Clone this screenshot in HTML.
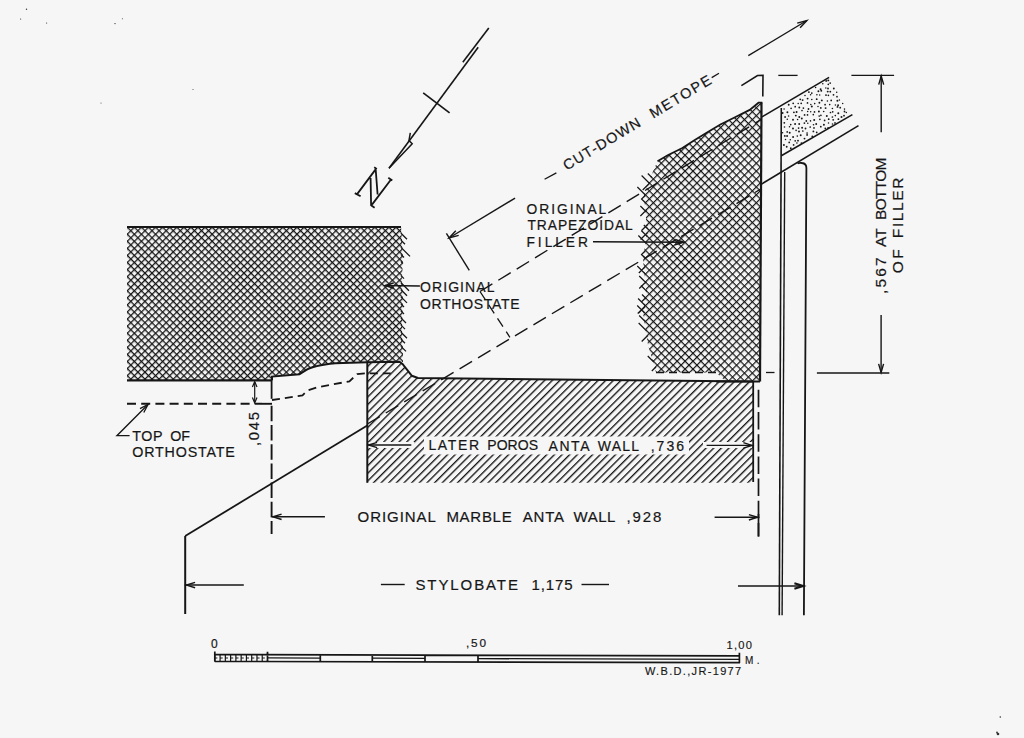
<!DOCTYPE html>
<html><head><meta charset="utf-8"><style>
html,body{margin:0;padding:0;background:#f6f6f6;width:1024px;height:738px;overflow:hidden}
svg{display:block}
text{font-family:"Liberation Sans",sans-serif;fill:#161616;stroke:#161616;stroke-width:0.2px}
</style></head><body>
<svg width="1024" height="738" viewBox="0 0 1024 738">
<defs>
<pattern id="xh" patternUnits="userSpaceOnUse" width="5.0" height="5.0" patternTransform="rotate(45)">
<rect x="0" y="0" width="1.3" height="5.0" fill="#161616"/><rect x="0" y="0" width="5.0" height="1.3" fill="#161616"/>
</pattern>
<pattern id="xh2" patternUnits="userSpaceOnUse" width="5.6" height="5.6" patternTransform="rotate(45)">
<rect x="0" y="0" width="1.2" height="5.6" fill="#161616"/><rect x="0" y="0" width="5.6" height="1.2" fill="#161616"/>
</pattern>
<pattern id="hh" patternUnits="userSpaceOnUse" width="5.4" height="5.4" patternTransform="rotate(45)">
<rect x="0" y="0" width="1.35" height="5.4" fill="#161616"/>
</pattern>
</defs>
<rect width="1024" height="738" fill="#f6f6f6"/>
<g stroke="#161616" stroke-linecap="butt" fill="none">
<path d="M127,226 L401,226 L402,240 L403,258 L402,280 L403,300 L402,330 L403,350 L403,362 L399.4,361.7 L367,362.2 L335.3,363.3 L316.6,365.6 L305.6,370.3 L299.4,374.2 L272,376.6 L272,380.4 L127,380.4 Z" fill="url(#xh)" stroke="none"/>
<line x1="127" y1="227" x2="401" y2="227" stroke-width="2.2" />
<path d="M401,233.21 L407,239.21 M401,240.28 L405,244.28 M401,247.36 L410,256.36 M401,254.43 L404,257.43 M401,261.50 L403,263.50 M401,275.64 L404,278.64 M401,282.71 L409,290.71 M401,289.78 L407,295.78 M401,296.85 L407,302.85 M401,303.92 L404,306.92 M401,311.00 L404,314.00 M401,318.07 L406,323.07 M401,325.14 L405,329.14 M401,332.21 L407,338.21 M401,339.28 L405,343.28 M401,346.35 L406,351.35" stroke-width="1.3" fill="none"/>
<line x1="127" y1="380.4" x2="272" y2="380.4" stroke-width="2.2" />
<path d="M272,380.4 L272,376.6 L299.4,374.2 L305.6,370.3 C310,367.5 318,365 335.3,363.3 L367,362.2 L399.4,361.7 L402.5,364 L411.9,375.8 L418,378 L753,381.5" stroke-width="2.0" fill="none" />
<path d="M657.5,161.2 L667.7,155.3 L682.4,148 L694,140.6 L705.8,133.3 L720.4,124.5 L735,117.2 L749.7,109.9 L761.5,102.5 L760,381.5 L726,381.5 L716,372.5 L656,372.5 L648,345 L643,313 L646,290 L643,260 L647,230 L644,195 L651,176 Z" fill="url(#xh2)" stroke="none"/>
<path d="M657.5,161.2 L667.7,155.3 L682.4,148 L694,140.6 L705.8,133.3 L720.4,124.5 L735,117.2 L749.7,109.9 L758.5,102.7 L762.3,102.7" stroke-width="1.8" fill="none" />
<line x1="761.5" y1="102.5" x2="760" y2="381.5" stroke-width="2.2" />
<path d="M651.82,177.50 L647.82,173.50 M649.61,183.50 L641.61,175.50 M648.68,184.00 L642.68,190.00 M645.37,195.00 L637.37,187.00 M645.13,195.50 L641.13,199.50 M645.60,203.00 L641.60,199.00 M646.37,212.00 L640.37,206.00 M646.37,210.00 L640.37,216.00 M647.61,224.50 L641.61,230.50 M647.83,229.00 L643.83,225.00 M647.53,232.50 L640.53,239.50 M647.27,236.50 L641.27,230.50 M646.33,243.50 L638.33,235.50 M645.07,251.00 L641.07,255.00 M644.47,257.50 L641.47,254.50 M644.80,267.00 L638.80,273.00 M645.30,274.00 L637.30,266.00 M646.20,283.00 L639.20,276.00 M646.25,281.50 L639.25,288.50 M646.93,291.50 L640.93,285.50 M646.02,298.50 L642.02,294.50 M645.89,297.50 L641.89,301.50 M645.11,305.50 L638.11,298.50 M644.72,306.50 L637.72,313.50 M644.65,307.00 L638.65,313.00 M644.20,312.50 L637.20,305.50 M645.17,321.50 L639.17,315.50 M646.66,331.00 L638.66,323.00 M647.67,335.50 L641.67,341.50 M653.74,362.00 L647.74,356.00 M655.81,367.00 L651.81,371.00" stroke-width="1.2" fill="none"/>
<path d="M716,381.5 L760,381.5" stroke-width="2.0" fill="none" />
<path d="M367.3,362.2 L399.4,361.7 L402.5,364 L411.9,375.8 L418,378 L753,381.5 L753,482.8 L367.3,482.8 Z" fill="url(#hh)" stroke="none"/>
<rect x="424" y="436.5" width="265" height="18" fill="#f6f6f6" stroke="none"/>
<rect x="368.5" y="442" width="46" height="6" fill="#f6f6f6" stroke="none"/>
<rect x="703" y="442" width="49" height="6" fill="#f6f6f6" stroke="none"/>
<line x1="367.3" y1="362.2" x2="367.3" y2="482.8" stroke-width="2.0" />
<line x1="753.2" y1="381.5" x2="753.2" y2="482" stroke-width="1.8" />
<line x1="127" y1="403.8" x2="262" y2="403.8" stroke-width="1.9" stroke-dasharray="9,5.2"/>
<line x1="262" y1="403.8" x2="272" y2="403.8" stroke-width="1.9" />
<path d="M272,400 L302.5,395.3 L307.2,390.6 L316.6,387.5 L349.4,381.3 L357.2,374.2 L365,373.4 L392,373.4" stroke-width="1.8" fill="none" stroke-dasharray="8,5"/>
<line x1="271.6" y1="380.4" x2="271.6" y2="398.8" stroke-width="1.8" />
<line x1="271.6" y1="405.8" x2="271.6" y2="534" stroke-width="1.9" stroke-dasharray="15.5,3.7"/>
<line x1="758.5" y1="389.8" x2="758.5" y2="536.5" stroke-width="1.7" stroke-dasharray="17.5,4.7"/>
<line x1="758.5" y1="514" x2="758.5" y2="536.5" stroke-width="1.7" />
<line x1="656" y1="372.5" x2="716" y2="372.5" stroke-width="1.4" stroke-dasharray="8,5"/>
<line x1="766" y1="372.5" x2="774.5" y2="372.5" stroke-width="1.3" />
<line x1="185.2" y1="536" x2="367.3" y2="425.5" stroke-width="1.8" />
<line x1="367.3" y1="424" x2="761" y2="188.9" stroke-width="1.4" stroke-dasharray="14.5,7"/>
<line x1="480" y1="291.5" x2="761" y2="119.5" stroke-width="1.4" stroke-dasharray="14.5,7"/>
<line x1="480" y1="291.5" x2="509.9" y2="337.3" stroke-width="1.3" stroke-dasharray="10,6"/>
<line x1="185.2" y1="536" x2="185.2" y2="614" stroke-width="2.0" />
<line x1="185.2" y1="585.1" x2="243.8" y2="585.1" stroke-width="1.5" />
<path d="M195.1,582.4 L186.5,585.1 L195.1,587.8" stroke-width="1.5" fill="none"/>
<line x1="271.6" y1="516.8" x2="324.9" y2="516.8" stroke-width="1.5" />
<path d="M281.6,514.1 L273,516.8 L281.6,519.5" stroke-width="1.5" fill="none"/>
<line x1="714.6" y1="517.3" x2="757.5" y2="517.3" stroke-width="1.5" />
<path d="M748.9,520.0 L757.5,517.3 L748.9,514.6" stroke-width="1.5" fill="none"/>
<line x1="738" y1="586" x2="803" y2="586" stroke-width="1.5" />
<path d="M794.4,588.7 L803,586 L794.4,583.3" stroke-width="2.2" fill="none"/>
<line x1="367.3" y1="445" x2="411.3" y2="445" stroke-width="1.4" />
<path d="M377.1,442.3 L368.5,445 L377.1,447.7" stroke-width="1.4" fill="none"/>
<line x1="706.6" y1="445.4" x2="753" y2="445.4" stroke-width="1.4" />
<path d="M743.4,448.1 L752,445.4 L743.4,442.7" stroke-width="1.4" fill="none"/>
<line x1="380.9" y1="584.5" x2="404.7" y2="584.5" stroke-width="1.4" />
<line x1="581.5" y1="584.5" x2="609" y2="584.5" stroke-width="1.4" />
<line x1="254.7" y1="382" x2="254.7" y2="402" stroke-width="1.2" />
<path d="M257.0,387.0 L254.7,381.5 L252.4,387.0" stroke-width="1.2" fill="none"/>
<path d="M252.4,397.5 L254.7,403 L257.0,397.5" stroke-width="1.2" fill="none"/>
<path d="M129.6,435.7 L116.9,435.7 L148,404.5" stroke-width="1.3" fill="none" />
<path d="M143.8,412.5 L148,404.5 L140.0,408.7" stroke-width="1.3" fill="none"/>
<line x1="385.2" y1="285.5" x2="419.9" y2="285.9" stroke-width="1.5" />
<path d="M393.8,282.9 L385.2,285.5 L393.8,288.3" stroke-width="1.5" fill="none"/>
<line x1="593" y1="241.8" x2="683.7" y2="242.2" stroke-width="1.5" />
<path d="M675.1,244.8 L683.7,242.2 L675.1,239.5" stroke-width="1.5" fill="none"/>
<line x1="446.4" y1="233.4" x2="469.3" y2="270.4" stroke-width="1.4" />
<line x1="449" y1="238" x2="515.1" y2="198.1" stroke-width="1.4" />
<path d="M455.8,230.7 L449,238 L458.7,235.4" stroke-width="1.4" fill="none"/>
<line x1="544.6" y1="179.3" x2="556.4" y2="172.9" stroke-width="1.3" />
<line x1="711.7" y1="77.6" x2="719" y2="73.3" stroke-width="1.3" />
<line x1="748.3" y1="55.7" x2="806.9" y2="20.5" stroke-width="1.4" />
<path d="M800.1,27.8 L806.9,20.5 L797.2,23.1" stroke-width="1.4" fill="none"/>
<path d="M741.4,85.6 L757.5,75.5 L763,75.3 L762.8,96.5" stroke-width="1.6" fill="none" />
<line x1="778.3" y1="75.4" x2="797.6" y2="75.4" stroke-width="1.3" />
<line x1="851.4" y1="75.4" x2="894.1" y2="75.4" stroke-width="1.4" />
<line x1="881.2" y1="76" x2="881.2" y2="132.3" stroke-width="1.4" />
<path d="M883.7,84.6 L881.2,76 L878.7,84.6" stroke-width="1.4" fill="none"/>
<line x1="881.1" y1="315" x2="881.1" y2="372.5" stroke-width="1.4" />
<path d="M878.6,363.9 L881.1,372.5 L883.6,363.9" stroke-width="1.4" fill="none"/>
<line x1="816.9" y1="373" x2="889.3" y2="373" stroke-width="1.4" />
<line x1="761.5" y1="117.1" x2="829.1" y2="77.4" stroke-width="1.6" />
<line x1="781.3" y1="155.7" x2="852.4" y2="114.6" stroke-width="1.6" />
<line x1="761.5" y1="184.1" x2="858.5" y2="125.6" stroke-width="1.6" />
<g fill="#161616" stroke="none"><circle cx="782.6" cy="113.0" r="0.94"/><circle cx="784.5" cy="127.0" r="0.80"/><circle cx="782.5" cy="132.8" r="0.82"/><circle cx="784.8" cy="135.9" r="0.92"/><circle cx="783.9" cy="145.0" r="0.97"/><circle cx="788.7" cy="104.7" r="0.96"/><circle cx="784.1" cy="109.1" r="0.77"/><circle cx="787.4" cy="112.2" r="0.98"/><circle cx="785.1" cy="117.0" r="0.89"/><circle cx="787.3" cy="119.3" r="0.79"/><circle cx="784.3" cy="122.8" r="0.92"/><circle cx="789.5" cy="126.8" r="0.76"/><circle cx="787.2" cy="131.9" r="0.85"/><circle cx="787.1" cy="136.0" r="0.96"/><circle cx="785.5" cy="139.5" r="0.76"/><circle cx="789.2" cy="142.4" r="0.87"/><circle cx="786.7" cy="146.7" r="0.93"/><circle cx="793.2" cy="103.3" r="0.87"/><circle cx="791.1" cy="108.4" r="0.82"/><circle cx="793.9" cy="112.3" r="0.90"/><circle cx="788.6" cy="116.0" r="0.81"/><circle cx="793.0" cy="119.7" r="0.95"/><circle cx="790.7" cy="124.6" r="0.84"/><circle cx="793.0" cy="128.5" r="0.96"/><circle cx="789.7" cy="132.7" r="0.97"/><circle cx="793.1" cy="137.1" r="0.99"/><circle cx="790.3" cy="139.8" r="0.79"/><circle cx="793.6" cy="144.9" r="0.87"/><circle cx="790.8" cy="148.3" r="0.93"/><circle cx="798.2" cy="103.5" r="0.76"/><circle cx="795.2" cy="106.7" r="0.89"/><circle cx="796.6" cy="112.1" r="0.99"/><circle cx="795.8" cy="115.6" r="0.95"/><circle cx="797.6" cy="119.5" r="0.79"/><circle cx="795.1" cy="124.0" r="0.99"/><circle cx="798.6" cy="128.1" r="0.84"/><circle cx="796.1" cy="130.4" r="0.78"/><circle cx="797.3" cy="136.1" r="0.79"/><circle cx="795.2" cy="140.8" r="0.84"/><circle cx="796.9" cy="143.0" r="0.82"/><circle cx="800.2" cy="99.3" r="0.88"/><circle cx="801.2" cy="103.3" r="0.88"/><circle cx="799.3" cy="107.5" r="0.94"/><circle cx="802.0" cy="110.6" r="0.81"/><circle cx="799.3" cy="117.0" r="0.97"/><circle cx="801.8" cy="118.5" r="0.94"/><circle cx="799.2" cy="124.0" r="0.93"/><circle cx="802.1" cy="127.7" r="0.98"/><circle cx="799.0" cy="131.5" r="0.96"/><circle cx="800.7" cy="135.2" r="0.96"/><circle cx="798.0" cy="140.7" r="0.92"/><circle cx="801.5" cy="143.1" r="0.95"/><circle cx="805.0" cy="95.6" r="0.77"/><circle cx="802.6" cy="100.1" r="0.94"/><circle cx="807.5" cy="102.9" r="0.86"/><circle cx="803.4" cy="108.1" r="0.87"/><circle cx="807.7" cy="111.5" r="0.76"/><circle cx="804.6" cy="114.9" r="0.91"/><circle cx="806.3" cy="121.0" r="0.89"/><circle cx="804.4" cy="123.1" r="0.89"/><circle cx="805.5" cy="128.5" r="0.88"/><circle cx="802.8" cy="131.0" r="0.84"/><circle cx="807.1" cy="134.9" r="0.93"/><circle cx="804.5" cy="138.6" r="0.92"/><circle cx="808.9" cy="92.1" r="0.94"/><circle cx="810.6" cy="94.8" r="0.76"/><circle cx="807.6" cy="98.6" r="0.97"/><circle cx="810.8" cy="104.6" r="0.75"/><circle cx="808.5" cy="109.0" r="0.90"/><circle cx="810.7" cy="111.8" r="0.77"/><circle cx="807.5" cy="114.9" r="0.84"/><circle cx="810.5" cy="120.9" r="0.79"/><circle cx="807.8" cy="123.2" r="0.79"/><circle cx="810.2" cy="127.0" r="0.87"/><circle cx="807.1" cy="133.0" r="0.84"/><circle cx="812.3" cy="136.3" r="0.92"/><circle cx="815.6" cy="87.5" r="0.77"/><circle cx="811.8" cy="93.1" r="0.87"/><circle cx="816.9" cy="94.7" r="0.81"/><circle cx="811.8" cy="99.6" r="0.77"/><circle cx="814.7" cy="103.6" r="0.83"/><circle cx="811.8" cy="106.6" r="0.99"/><circle cx="814.5" cy="111.9" r="0.85"/><circle cx="813.3" cy="114.7" r="0.83"/><circle cx="814.2" cy="119.9" r="0.98"/><circle cx="813.5" cy="124.8" r="0.80"/><circle cx="814.0" cy="127.9" r="0.87"/><circle cx="813.4" cy="131.4" r="0.91"/><circle cx="820.6" cy="89.2" r="0.93"/><circle cx="818.4" cy="91.3" r="0.95"/><circle cx="819.7" cy="94.9" r="0.77"/><circle cx="816.7" cy="99.2" r="0.92"/><circle cx="819.4" cy="102.7" r="0.94"/><circle cx="818.0" cy="106.5" r="0.76"/><circle cx="818.9" cy="111.5" r="0.96"/><circle cx="819.2" cy="116.1" r="0.81"/><circle cx="819.9" cy="119.4" r="0.83"/><circle cx="816.2" cy="124.0" r="0.96"/><circle cx="820.8" cy="126.7" r="0.88"/><circle cx="816.7" cy="132.4" r="0.86"/><circle cx="826.2" cy="80.9" r="0.96"/><circle cx="822.8" cy="83.7" r="0.79"/><circle cx="825.8" cy="87.9" r="0.76"/><circle cx="821.3" cy="90.8" r="0.93"/><circle cx="826.0" cy="95.1" r="0.95"/><circle cx="821.8" cy="100.4" r="0.97"/><circle cx="825.1" cy="104.7" r="0.84"/><circle cx="820.8" cy="107.9" r="0.90"/><circle cx="823.7" cy="111.5" r="0.83"/><circle cx="820.9" cy="115.3" r="0.85"/><circle cx="824.6" cy="120.4" r="0.85"/><circle cx="823.9" cy="124.7" r="0.98"/><circle cx="825.3" cy="128.3" r="0.88"/><circle cx="828.3" cy="80.4" r="0.97"/><circle cx="828.3" cy="84.3" r="0.85"/><circle cx="828.0" cy="88.5" r="0.89"/><circle cx="827.7" cy="91.6" r="0.97"/><circle cx="828.4" cy="95.4" r="0.82"/><circle cx="827.4" cy="101.0" r="0.79"/><circle cx="829.7" cy="104.6" r="0.81"/><circle cx="825.6" cy="108.1" r="0.96"/><circle cx="830.5" cy="112.5" r="0.85"/><circle cx="826.8" cy="115.9" r="0.98"/><circle cx="828.7" cy="119.2" r="0.90"/><circle cx="828.5" cy="122.9" r="0.76"/><circle cx="828.1" cy="128.0" r="0.90"/><circle cx="830.2" cy="83.1" r="0.84"/><circle cx="833.8" cy="88.5" r="0.94"/><circle cx="830.3" cy="91.7" r="0.89"/><circle cx="833.5" cy="94.8" r="0.90"/><circle cx="831.2" cy="100.4" r="0.87"/><circle cx="835.4" cy="105.1" r="0.77"/><circle cx="832.4" cy="108.5" r="0.82"/><circle cx="832.7" cy="111.8" r="0.84"/><circle cx="832.4" cy="117.0" r="0.85"/><circle cx="833.2" cy="119.8" r="0.92"/><circle cx="832.5" cy="124.0" r="0.82"/><circle cx="836.7" cy="92.3" r="0.76"/><circle cx="837.0" cy="96.7" r="0.85"/><circle cx="837.4" cy="100.8" r="0.98"/><circle cx="838.1" cy="105.3" r="0.94"/><circle cx="837.5" cy="106.9" r="0.95"/><circle cx="838.3" cy="113.2" r="1.00"/><circle cx="835.3" cy="115.6" r="0.82"/><circle cx="838.4" cy="119.2" r="0.92"/><circle cx="835.0" cy="122.9" r="0.86"/><circle cx="839.4" cy="99.9" r="0.76"/><circle cx="842.7" cy="103.5" r="0.76"/><circle cx="840.2" cy="107.7" r="0.91"/><circle cx="844.5" cy="111.5" r="0.88"/><circle cx="841.5" cy="117.1" r="0.99"/><circle cx="844.5" cy="109.1" r="0.78"/><circle cx="846.3" cy="112.4" r="0.77"/><circle cx="844.0" cy="115.7" r="0.91"/></g>
<line x1="781.3" y1="108" x2="779.3" y2="615.3" stroke-width="1.6" />
<line x1="784.7" y1="172" x2="782.1" y2="615.3" stroke-width="1.4" />
<path d="M797.5,163.5 Q799,162.5 802,163 Q806.4,163.5 806.4,168 L803.9,615.3" stroke-width="1.8" fill="none" />
<line x1="478.2" y1="47.2" x2="389" y2="168.2" stroke-width="1.6" />
<line x1="423.2" y1="92.9" x2="449.6" y2="112.9" stroke-width="1.7" />
<line x1="488.8" y1="28.1" x2="462.8" y2="62.3" stroke-width="1.6" />
<path d="M389,168.2 L412.2,143.8 L409,140.5 L410.3,132.8" stroke-width="1.5" fill="none" />
<path d="M357.5,193.6 L376,168.9 M354.8,193.1 L360.6,196.2 M374.2,167.2 L376.8,168.9 M370.6,178 L371.1,205.5 M375.7,169.5 L377.6,194.5 M372,204.6 L391,179.5 M388.3,177.7 L392.3,180.4 M370.7,205 L374.6,207.7" stroke-width="1.8" fill="none" />
<path d="M214.8,654.60 L740,655.90 M214.8,661.40 L740,662.70 M214.8,651.5 L214.8,661.40 M267.5,651.7 L267.5,661.53 M320.3,654.86 L320.3,661.66 M372.3,654.99 L372.3,661.79 M425,655.12 L425,661.92 M478,655.25 L478,662.05 M739.4,652.8 L739.4,662.90" stroke-width="1.7" fill="none" />
<path d="M267.5,657.93 L320.3,658.06 M372.3,658.19 L425,658.32 M478,658.65 L740,659.30" stroke-width="1.3" fill="none" />
<line x1="214.8" y1="654.6" x2="214.8" y2="661.4" stroke-width="1.2" />
<line x1="220.07000000000002" y1="654.6" x2="220.07000000000002" y2="661.4" stroke-width="1.2" />
<line x1="225.34" y1="654.6" x2="225.34" y2="661.4" stroke-width="1.2" />
<line x1="230.61" y1="654.6" x2="230.61" y2="661.4" stroke-width="1.2" />
<line x1="235.88" y1="654.6" x2="235.88" y2="661.4" stroke-width="1.2" />
<line x1="241.15" y1="654.6" x2="241.15" y2="661.4" stroke-width="1.2" />
<line x1="246.42000000000002" y1="654.6" x2="246.42000000000002" y2="661.4" stroke-width="1.2" />
<line x1="251.69" y1="654.6" x2="251.69" y2="661.4" stroke-width="1.2" />
<line x1="256.96000000000004" y1="654.6" x2="256.96000000000004" y2="661.4" stroke-width="1.2" />
<line x1="262.23" y1="654.6" x2="262.23" y2="661.4" stroke-width="1.2" />
<path d="M214.8,658 L267.5,658" stroke-width="1.2" fill="none" stroke-dasharray="2.6,2.67"/>
<g fill="#333" stroke="none"><circle cx="26.5" cy="9.2" r="0.7"/><circle cx="20.6" cy="19" r="0.6"/><circle cx="46.6" cy="23" r="0.6"/><circle cx="115" cy="23.6" r="0.7"/><circle cx="122.4" cy="18.7" r="0.5"/><circle cx="101" cy="103" r="0.5"/><circle cx="193" cy="89.4" r="0.5"/><circle cx="1000.3" cy="717" r="0.8"/><circle cx="998" cy="734" r="1.3"/><circle cx="997" cy="732.5" r="0.9"/></g>
<text x="420.0" y="291.5" font-size="14" letter-spacing="1.086" >ORIGINAL</text>
<text x="420.0" y="308.5" font-size="14" letter-spacing="0.689" >ORTHOSTATE</text>
<text x="132.3" y="440.9" font-size="14.3" letter-spacing="0.5" >TOP</text>
<text x="170.3" y="440.9" font-size="14.3" letter-spacing="-0.1" >OF</text>
<text x="132.2" y="457.3" font-size="14.3" letter-spacing="0.822" >ORTHOSTATE</text>
<text x="428.4" y="450.4" font-size="14" letter-spacing="1.675" >LATER</text>
<text x="487.3" y="450.4" font-size="14" letter-spacing="0.05" >POROS</text>
<text x="548.6" y="450.6" font-size="14" letter-spacing="1.533" >ANTA</text>
<text x="597.8" y="450.6" font-size="14" letter-spacing="1.2" >WALL</text>
<text x="650.7" y="450.6" font-size="14" letter-spacing="2.017" >,736</text>
<text x="357.6" y="521.9" font-size="15" letter-spacing="0.929" >ORIGINAL</text>
<text x="446.4" y="521.9" font-size="15" letter-spacing="0.72" >MARBLE</text>
<text x="522.8" y="521.7" font-size="15" letter-spacing="0.8" >ANTA</text>
<text x="573.6" y="521.7" font-size="15" letter-spacing="0.467" >WALL</text>
<text x="626.5" y="521.7" font-size="15" letter-spacing="1.867" >,928</text>
<text x="415.4" y="590.3" font-size="15" letter-spacing="1.913" >STYLOBATE</text>
<text x="531.4" y="590.3" font-size="15" letter-spacing="0.925" >1,175</text>
<text x="526.5" y="214.1" font-size="13.8" letter-spacing="1.971" >ORIGINAL</text>
<text x="527.5" y="229.9" font-size="13.8" letter-spacing="0.94" >TRAPEZOIDAL</text>
<text x="526.5" y="246.5" font-size="13.8" letter-spacing="2.94" >FILLER</text>
<text x="211.0" y="647.7" font-size="12" letter-spacing="0.0" >0</text>
<text x="465.9" y="647.0" font-size="11.8" letter-spacing="1.85" >,50</text>
<text x="726.6" y="648.8" font-size="11.2" letter-spacing="1.167" style="stroke:#161616;stroke-width:0.15px">1,00</text>
<text x="745.0" y="663.5" font-size="10" letter-spacing="3.5" style="stroke:#161616;stroke-width:0.15px">M.</text>
<text x="645.0" y="674.8" font-size="11" letter-spacing="1.331" style="stroke:#161616;stroke-width:0.15px">W.B.D.,JR-1977</text>
<text x="259.3" y="446.0" font-size="14.8" letter-spacing="1.767" transform="rotate(-90 259.3 446.0)" >,045</text>
<text x="886.1" y="293.9" font-size="15.5" letter-spacing="2.133" transform="rotate(-90 886.1 293.9)" >,567</text>
<text x="886.1" y="246.9" font-size="15.5" letter-spacing="-0.1" transform="rotate(-90 886.1 246.9)" >AT</text>
<text x="886.1" y="219.9" font-size="15.5" letter-spacing="-0.72" transform="rotate(-90 886.1 219.9)" >BOTTOM</text>
<text x="903.2" y="273.2" font-size="15.5" letter-spacing="2.3" transform="rotate(-90 903.2 273.2)" >OF</text>
<text x="903.2" y="238.2" font-size="15.5" letter-spacing="1.64" transform="rotate(-90 903.2 238.2)" >FILLER</text>
<g transform="translate(569.7,163) rotate(-31)"><text x="-6.5" y="5.01" font-size="14.5" letter-spacing="1.114">CUT-DOWN</text><text x="94.5" y="5.01" font-size="14.5" letter-spacing="1.64">METOPE</text></g>
</g>
</svg>
</body></html>
